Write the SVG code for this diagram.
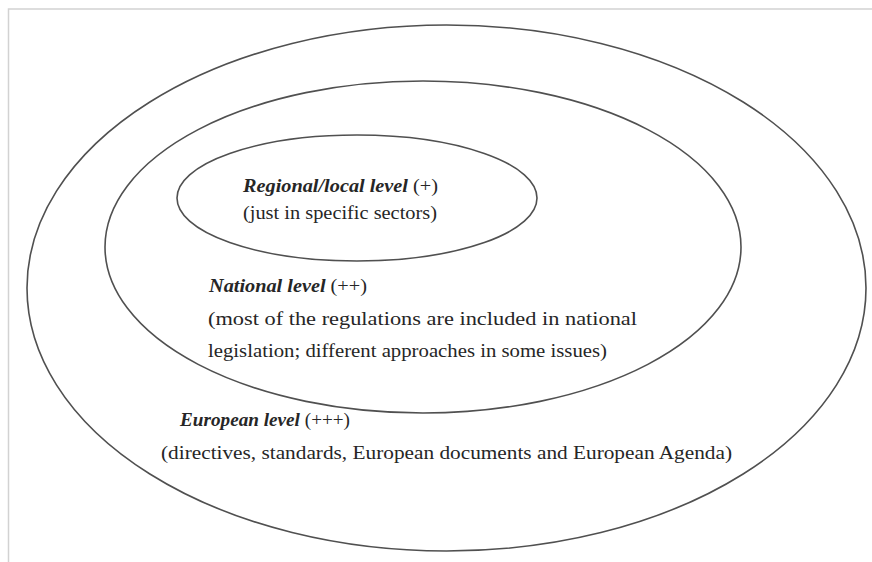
<svg xmlns="http://www.w3.org/2000/svg" width="872" height="562" viewBox="0 0 872 562">
<style>
.ring{fill:none;stroke:#505050;stroke-width:1.6}
.t{font-family:"Liberation Serif","Times New Roman",serif;font-size:19px;fill:#262626}
.h{font-style:italic;font-weight:bold}
.frame{stroke:#d2d2d2;stroke-width:1.5;fill:none}
</style>
<rect width="872" height="562" fill="#ffffff"/>
<path class="frame" d="M8.5,562 V9 H872"/>
<g id="european">
<ellipse class="ring" cx="446.5" cy="288" rx="419.5" ry="263"/>
<text class="t" x="180" y="426" textLength="170" lengthAdjust="spacingAndGlyphs"><tspan class="h">European level</tspan> (+++)</text>
<text class="t" x="161" y="459" textLength="571" lengthAdjust="spacingAndGlyphs">(directives, standards, European documents and European Agenda)</text>
</g>
<g id="national">
<ellipse class="ring" cx="423" cy="247" rx="318" ry="166"/>
<text class="t" x="209" y="292" textLength="158" lengthAdjust="spacingAndGlyphs"><tspan class="h">National level</tspan> (++)</text>
<text class="t" x="208" y="325" textLength="429" lengthAdjust="spacingAndGlyphs">(most of the regulations are included in national</text>
<text class="t" x="208" y="357" textLength="399" lengthAdjust="spacingAndGlyphs">legislation; different approaches in some issues)</text>
</g>
<g id="regional">
<ellipse class="ring" cx="357" cy="198" rx="180" ry="63"/>
<text class="t" x="243" y="192" textLength="195" lengthAdjust="spacingAndGlyphs"><tspan class="h">Regional/local level</tspan> (+)</text>
<text class="t" x="243" y="219" textLength="194" lengthAdjust="spacingAndGlyphs">(just in specific sectors)</text>
</g>
<g id="connectors"/>
</svg>
